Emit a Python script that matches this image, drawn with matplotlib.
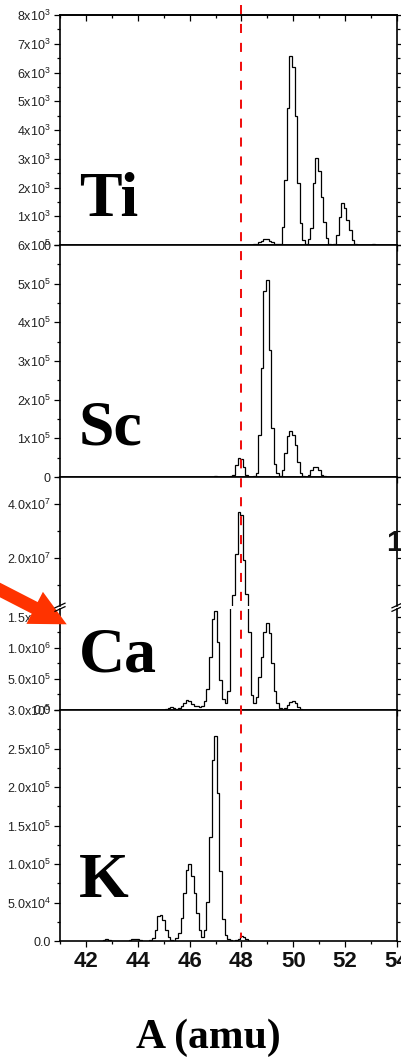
import numpy as np
import matplotlib
matplotlib.use('Agg')
import matplotlib.pyplot as plt
from matplotlib.ticker import MultipleLocator, FixedLocator
from matplotlib.transforms import IdentityTransform, blended_transform_factory
from matplotlib.patches import FancyArrow
from matplotlib.lines import Line2D

plt.rcParams['font.family'] = ['Liberation Sans', 'DejaVu Sans']
plt.rcParams['mathtext.default'] = 'regular'

W, H = 401, 1059
BIN = 0.1
MARK = 48.0

# first bin centre (amu) and bin contents
ti_start = 48.5          # units of 1e3
ti_counts = [0.02, 0.05, 0.1, 0.15, 0.2, 0.2, 0.15, 0.1, 0.05, 0.02,
             0.05, 0.64, 2.26, 4.75, 6.56, 6.2, 4.48, 2.16, 0.75, 0.17,
             0.05, 0.2, 0.58, 2.16, 3.04, 2.58, 1.68, 0.81, 0.23, 0.02,
             0.0, 0.02, 0.35, 0.98, 1.45, 1.27, 0.87, 0.52, 0.17, 0.02,
             0.0, 0.0, 0.0, 0.0, 0.0, 0.01, 0.02, 0.01]

sc_start = 46.8          # units of 1e5
sc_counts = [0.005, 0.01, 0.015, 0.01, 0.005, 0.0, 0.0, 0.005, 0.02, 0.06,
             0.32, 0.49, 0.47, 0.27, 0.06, 0.01, 0.0, 0.02, 0.1, 1.09,
             2.81, 4.81, 5.1, 3.28, 1.26, 0.34, 0.1, 0.02, 0.19, 0.62,
             1.07, 1.2, 1.09, 0.83, 0.38, 0.1, 0.02, 0.01, 0.06, 0.19,
             0.27, 0.25, 0.17, 0.06, 0.02, 0.005]

ca_start = 45.0          # units of 1e6
ca_counts = [0.005, 0.01, 0.03, 0.05, 0.04, 0.02, 0.03, 0.07, 0.12, 0.16,
             0.15, 0.1, 0.07, 0.06, 0.05, 0.06, 0.15, 0.34, 0.85, 1.47,
             1.6, 1.1, 0.48, 0.18, 0.12, 0.3, 1.7, 6.3, 21.5, 37.1,
             35.9, 19.3, 6.5, 1.26, 0.24, 0.11, 0.21, 0.54, 0.86, 1.26,
             1.41, 1.24, 0.75, 0.31, 0.11, 0.03, 0.01, 0.04, 0.08, 0.13,
             0.14, 0.11, 0.05, 0.02]

k_start = 42.5           # units of 1e5
k_counts = [0.0, 0.005, 0.015, 0.02, 0.015, 0.005, 0.0, 0.0, 0.0, 0.0,
            0.0, 0.005, 0.01, 0.025, 0.03, 0.02, 0.01, 0.005, 0.0, 0.0,
            0.01, 0.035, 0.14, 0.32, 0.34, 0.27, 0.14, 0.05, 0.01, 0.005,
            0.04, 0.1, 0.3, 0.62, 0.92, 1.0, 0.84, 0.62, 0.36, 0.14,
            0.05, 0.14, 0.51, 1.35, 2.35, 2.66, 1.92, 0.91, 0.29, 0.08,
            0.02, 0.01, 0.005, 0.01, 0.03, 0.06, 0.05, 0.02, 0.005]

ti_ticks = [0, 1, 2, 3, 4, 5, 6, 7, 8]
ti_labels = ['0', '1x10$^3$', '2x10$^3$', '3x10$^3$', '4x10$^3$', '5x10$^3$',
             '6x10$^3$', '7x10$^3$', '8x10$^3$']
sc_ticks = [0, 1, 2, 3, 4, 5, 6]
sc_labels = ['0', '1x10$^5$', '2x10$^5$', '3x10$^5$', '4x10$^5$', '5x10$^5$',
             '6x10$^5$']
ca_hi_ticks = [20, 40]
ca_hi_labels = ['2.0x10$^7$', '4.0x10$^7$']
ca_lo_ticks = [0, 0.5, 1.0, 1.5]
ca_lo_labels = ['0.0', '5.0x10$^5$', '1.0x10$^6$', '1.5x10$^6$']
k_ticks = [0, 0.5, 1.0, 1.5, 2.0, 2.5, 3.0]
k_labels = ['0.0', '5.0x10$^4$', '1.0x10$^5$', '1.5x10$^5$', '2.0x10$^5$',
            '2.5x10$^5$', '3.0x10$^5$']
x_ticks = [42, 44, 46, 48, 50, 52, 54]

fig = plt.figure(figsize=(W / 100, H / 100), dpi=100)


def px_axes(top, bottom, left=60, right=397):
    return fig.add_axes([left / W, 1 - bottom / H, (right - left) / W, (bottom - top) / H])


def edges(start, counts):
    return start - BIN / 2 + BIN * np.arange(len(counts) + 1)


def style(ax, ylim, ticks, labels, minor, bottom=True):
    ax.set_xlim(41, 54)
    ax.set_ylim(*ylim)
    ax.xaxis.set_major_locator(FixedLocator(x_ticks))
    ax.xaxis.set_minor_locator(MultipleLocator(1))
    ax.yaxis.set_major_locator(FixedLocator(ticks))
    ax.set_yticklabels(labels)
    ax.yaxis.set_minor_locator(MultipleLocator(minor))
    ax.tick_params(axis='y', which='both', direction='out', left=True, right=True,
                   labelsize=9, labelcolor='#222222', pad=2.5, width=0.9)
    ax.tick_params(axis='x', which='both', direction='out', top=False, bottom=bottom,
                   labelbottom=False, width=0.9)
    ax.tick_params(which='major', length=4)
    ax.tick_params(which='minor', length=2.5)
    for s in ax.spines.values():
        s.set_linewidth(1.2)


def draw(ax, start, counts):
    ax.stairs(counts, edges(start, counts), color='black', lw=0.9)


ax_ti = px_axes(15, 245)
draw(ax_ti, ti_start, ti_counts)
style(ax_ti, (0, 8), ti_ticks, ti_labels, 0.5)
sec = ax_ti.secondary_xaxis('top')
sec.xaxis.set_major_locator(FixedLocator(x_ticks))
sec.xaxis.set_minor_locator(MultipleLocator(1))
sec.tick_params(which='both', direction='in', labeltop=False, width=0.9)
sec.tick_params(which='major', length=4)
sec.tick_params(which='minor', length=2.5)
sec.spines['top'].set_linewidth(1.2)

ax_sc = px_axes(245, 477)
draw(ax_sc, sc_start, sc_counts)
style(ax_sc, (0, 6.0), sc_ticks, sc_labels, 0.5)

# calcium: broken axis, two pieces
ax_ca_hi = px_axes(477, 606)
draw(ax_ca_hi, ca_start, ca_counts)
style(ax_ca_hi, (2.22, 50.0), ca_hi_ticks, ca_hi_labels, 10, bottom=False)
ax_ca_hi.spines['bottom'].set_visible(False)

ax_ca_lo = px_axes(609, 710)
draw(ax_ca_lo, ca_start, ca_counts)
style(ax_ca_lo, (0, 1.629), ca_lo_ticks, ca_lo_labels, 0.25)
ax_ca_lo.spines['top'].set_visible(False)

ax_k = px_axes(710, 941)
draw(ax_k, k_start, k_counts)
style(ax_k, (0, 3.0), k_ticks, k_labels, 0.25)
ax_k.tick_params(axis='x', labelbottom=True, labelsize=16, pad=3.5, labelcolor='#111111')
for t in ax_k.get_xticklabels():
    t.set_fontweight('bold')

# element names
serif = ['Liberation Serif', 'DejaVu Serif']
for name, base in [('Ti', 216), ('Sc', 444), ('Ca', 671), ('K', 897)]:
    fig.text(79 / W, 1 - base / H, name, family=serif, weight='bold',
             fontsize=46, va='baseline', ha='left')

fig.text(208 / W, 1 - 1048 / H, 'A (amu)', family=serif, weight='bold',
         fontsize=30, va='baseline', ha='center')

fig.text(386 / W, 1 - 551 / H, '1', weight='bold', fontsize=21,
         va='baseline', ha='left', color='#111111')

# dashed reference line at A = 48
tr = blended_transform_factory(ax_k.transData, fig.transFigure)
fig.add_artist(Line2D([MARK, MARK], [1 - 5 / H, 1 - 938 / H], transform=tr,
                      color='#f01010', lw=1.45, dashes=(4.5, 4.9)))

# axis break marks
ident = IdentityTransform()
for xc in (60, 397):
    for yc in (605.5, 609.0):
        fig.add_artist(Line2D([xc - 5, xc + 5], [H - yc - 2.3, H - yc + 2.3],
                              transform=ident, color='black', lw=0.9))

# red arrow
tip = np.array([66.7, H - 624.3])
d = np.array([0.889, -0.457]) * 100
fig.add_artist(FancyArrow(tip[0] - d[0], tip[1] - d[1], d[0], d[1], width=13,
                          head_width=36, head_length=36, length_includes_head=True,
                          color='#ff3300', lw=0, transform=ident))

fig.savefig('out.png', dpi=100)
